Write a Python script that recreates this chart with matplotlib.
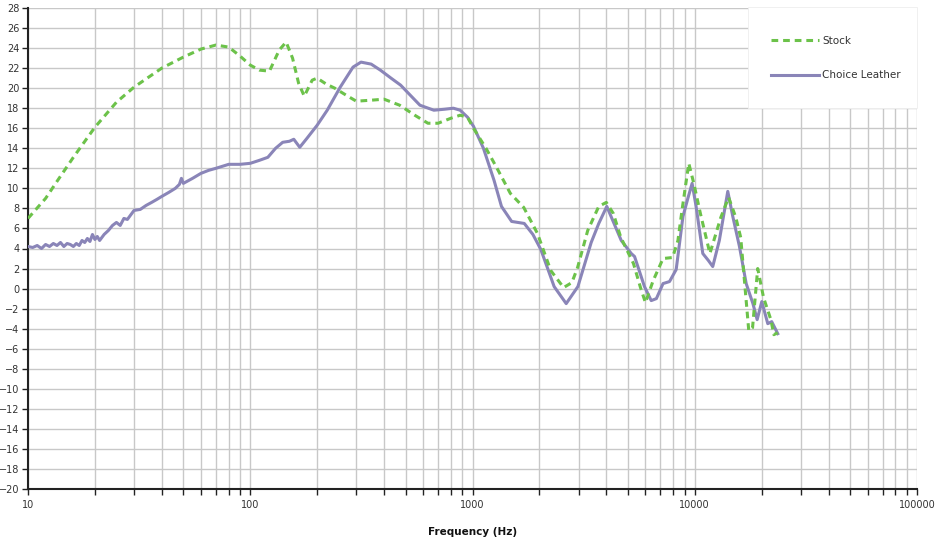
import matplotlib
matplotlib.use("Agg")
import matplotlib.pyplot as plt
from matplotlib.patches import Rectangle
from matplotlib.ticker import LogLocator, FixedLocator, NullFormatter

# ---- data ----
stock_freq = [10, 12, 13.6, 16, 20, 25, 30, 40, 50, 60, 70, 80, 90, 100, 110, 122,
              135, 145, 155, 165, 175, 190, 200, 220, 240, 270, 300, 350, 400, 470,
              550, 630, 700, 800, 880, 950, 1010, 1150, 1290, 1480, 1700, 1960, 2250,
              2570, 2800, 2970, 3300, 3700, 4000, 4300, 4650, 5300, 5700, 6000, 6500,
              7200, 7950, 8400, 8800, 9400, 9900, 10600, 11700, 13100, 14200, 15300,
              16100, 17500, 18200, 19200, 20400, 22000, 22700, 23600]
stock_db = [7.0, 9.0, 10.8, 13.1, 16.1, 18.6, 20.1, 22.0, 23.1, 23.9, 24.3, 24.1, 23.2,
            22.3, 21.8, 21.7, 23.8, 24.6, 23.0, 20.5, 19.2, 20.8, 21.0, 20.4, 20.0, 19.3,
            18.7, 18.8, 18.9, 18.3, 17.3, 16.5, 16.5, 17.0, 17.3, 17.1, 16.0, 14.0, 12.0,
            9.5, 8.1, 5.5, 1.8, 0.1, 0.6, 2.1, 5.8, 8.2, 8.6, 7.5, 5.1, 2.5, 0.1, -1.4,
            0.8, 3.0, 3.1, 4.8, 8.1, 12.5, 10.5, 7.5, 3.5, 7.1, 9.1, 7.1, 5.1, -4.2,
            -3.9, 2.0, -0.9, -3.1, -4.6, -4.4]

leather_freq = [10, 10.5, 11, 11.5, 12, 12.5, 13, 13.5, 14, 14.5, 15, 15.5, 16, 16.5,
                17, 17.5, 18, 18.5, 19, 19.5, 20, 20.5, 21, 22, 23, 24, 25, 26, 27, 28,
                30, 32, 34, 36, 38, 40, 43, 46, 48, 49, 50, 55, 60, 65, 70, 80, 90, 100,
                110, 120, 130, 140, 150, 157, 167, 180, 200, 222, 254, 290, 315, 350,
                385, 430, 475, 530, 580, 670, 750, 820, 880, 950, 1010, 1120, 1250, 1350,
                1500, 1710, 1870, 2030, 2330, 2640, 2980, 3420, 3700, 4020, 4670, 5180,
                5360, 5940, 6370, 6720, 7200, 7700, 8250, 8850, 9310, 9730, 10140, 10870,
                11520, 12050, 12900, 14080, 14830, 15890, 17040, 18270, 19090, 20030,
                21310, 22200, 23630]
leather_db = [4.2, 4.1, 4.3, 4.0, 4.4, 4.2, 4.5, 4.3, 4.6, 4.2, 4.5, 4.4, 4.2, 4.5,
              4.3, 4.8, 4.6, 5.0, 4.7, 5.4, 4.9, 5.2, 4.8, 5.4, 5.8, 6.3, 6.6, 6.3, 7.0,
              6.9, 7.8, 7.9, 8.3, 8.6, 8.9, 9.2, 9.6, 10.0, 10.4, 11.0, 10.5, 11.0, 11.5,
              11.8, 12.0, 12.4, 12.4, 12.5, 12.8, 13.1, 14.0, 14.6, 14.7, 14.9, 14.1,
              15.0, 16.3, 17.8, 20.1, 22.1, 22.6, 22.4, 21.8, 21.0, 20.3, 19.2, 18.3,
              17.8, 17.9, 18.0, 17.8, 17.1, 16.2, 14.0, 10.8, 8.2, 6.7, 6.5, 5.4, 3.9,
              0.2, -1.5, 0.2, 4.6, 6.5, 8.2, 4.8, 3.5, 3.2, 0.2, -1.2, -1.0, 0.5, 0.7,
              1.9, 7.2, 9.0, 10.5, 8.2, 3.5, 2.8, 2.2, 4.8, 9.7, 7.2, 4.2, 0.5, -1.5,
              -3.1, -1.3, -3.5, -3.3, -4.5]

series_labels = ["Stock", "Choice Leather"]
y_ticks = list(range(-20, 29, 2))
x_ticks = [10, 100, 1000, 10000, 100000]
x_tick_labels = ["10", "100", "1000", "10000", "100000"]

# ---- figure ----
fig = plt.figure(figsize=(9.38, 5.41), dpi=100)
ax = fig.add_axes([28/938, 1-489/541, (917-28)/938, (489-8)/541])

ax.set_xscale("log")
ax.set_xlim(10, 100000)
ax.set_ylim(-20, 28)

grid_color = "#c8c8c8"
ax.xaxis.set_major_locator(FixedLocator(x_ticks))
ax.set_xticklabels(x_tick_labels)
ax.xaxis.set_minor_locator(LogLocator(base=10, subs=range(2, 10)))
ax.xaxis.set_minor_formatter(NullFormatter())
ax.set_yticks(y_ticks)
ax.grid(True, which="both", axis="x", color=grid_color, lw=1.0)
ax.grid(True, which="major", axis="y", color=grid_color, lw=1.0)
ax.set_axisbelow(True)

for s in ["top", "right"]:
    ax.spines[s].set_visible(False)
for s in ["left", "bottom"]:
    ax.spines[s].set_color("#222222")
    ax.spines[s].set_linewidth(1.5)

ax.tick_params(axis="both", which="major", direction="out", length=4, width=1,
               labelsize=7, labelcolor="#333333", color="#222222")
ax.tick_params(axis="x", which="minor", direction="out", length=4, width=1, color="#222222")
ax.tick_params(axis="x", which="major", pad=4)
ax.tick_params(axis="y", which="major", pad=2)

l1, = ax.plot(stock_freq, stock_db, color="#6cc24a", lw=2.2, ls=(0, (2.2, 1.6)),
              label=series_labels[0], zorder=4)
l2, = ax.plot(leather_freq, leather_db, color="#8a85b8", lw=2.2,
              label=series_labels[1], zorder=3)

ax.set_xlabel("Frequency (Hz)", fontsize=7.5, fontweight="bold", labelpad=12,
              color="#111111")

# legend box (white, covering grid)
ax.add_patch(Rectangle((0.81, 0.792), 0.19, 0.21, transform=ax.transAxes,
                       facecolor="white", edgecolor="#eeeeee", lw=0.6,
                       zorder=2.5, clip_on=False))
leg = ax.legend(handles=[l1, l2], loc="center left",
                bbox_to_anchor=((771-28)/889, (489-58)/481),
                frameon=False, fontsize=7.5, handlelength=4.6,
                handletextpad=0.3, labelspacing=2.4, borderpad=0,
                borderaxespad=0)
for t in leg.get_texts():
    t.set_color("#333333")
leg.set_zorder(5)

fig.savefig("out.png", dpi=100, facecolor="white")
